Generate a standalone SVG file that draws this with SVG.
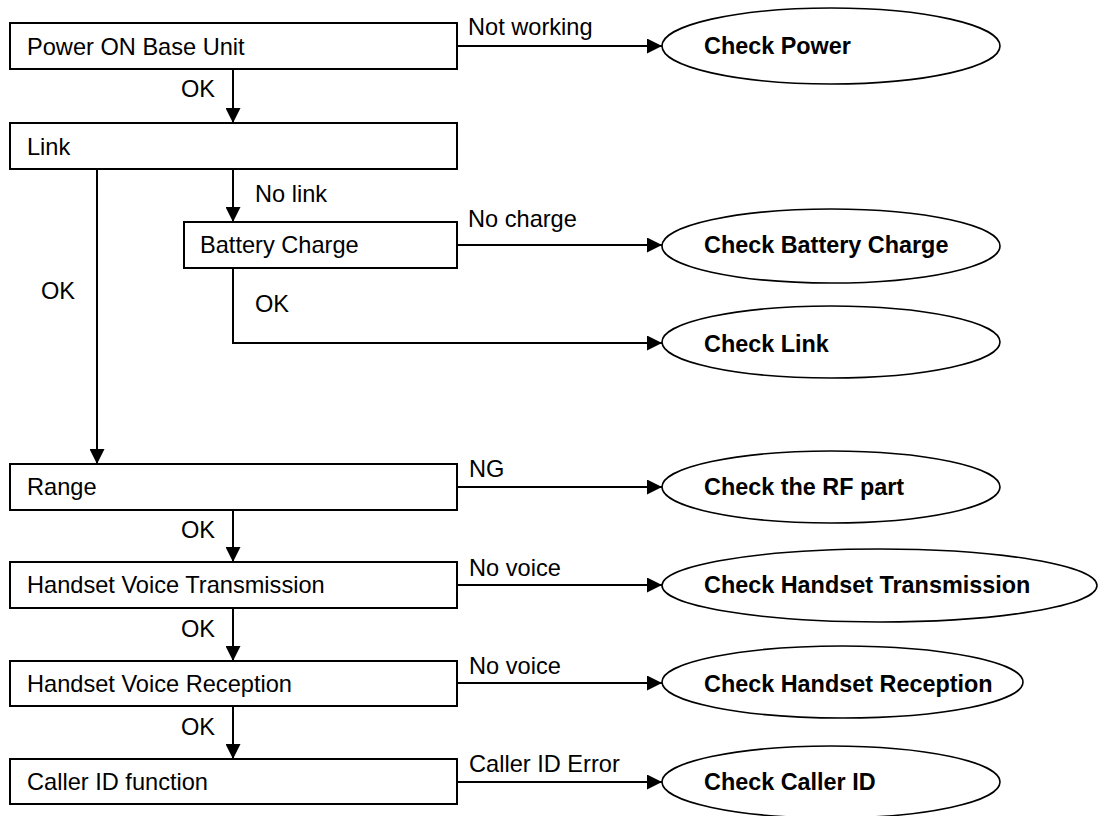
<svg xmlns="http://www.w3.org/2000/svg" width="1099" height="816" viewBox="0 0 1099 816">
  <style>
    .box { fill: #fff; stroke: #000; stroke-width: 2; }
    .end { fill: #fff; stroke: #000; stroke-width: 1.6; }
    .lbl { font-family: "Liberation Sans", Arial, sans-serif; font-size: 23.6px; fill: #000; }
    .bold { font-family: "Liberation Sans", Arial, sans-serif; font-size: 23.4px; font-weight: bold; fill: #000; }
    .wire { fill: none; stroke: #000; stroke-width: 2; }
  </style>
  <defs>
    <marker id="arrow" markerUnits="userSpaceOnUse" markerWidth="15" markerHeight="15" refX="15" refY="7.5" orient="auto">
      <path d="M0,0 L15,7.5 L0,15 z" fill="#000"/>
    </marker>
  </defs>
  <rect width="1099" height="816" fill="#fff"/>

  <!-- connectors -->
  <g id="connectors">
    <path class="wire" d="M233,69 V123" marker-end="url(#arrow)"/>
    <path class="wire" d="M233,169 V222" marker-end="url(#arrow)"/>
    <path class="wire" d="M97,169 V464" marker-end="url(#arrow)"/>
    <path class="wire" d="M233,268 V343 H662" marker-end="url(#arrow)"/>
    <path class="wire" d="M233,510 V562" marker-end="url(#arrow)"/>
    <path class="wire" d="M233,608 V661" marker-end="url(#arrow)"/>
    <path class="wire" d="M233,706 V759" marker-end="url(#arrow)"/>
    <path class="wire" d="M457,46 H662" marker-end="url(#arrow)"/>
    <path class="wire" d="M457,245 H662" marker-end="url(#arrow)"/>
    <path class="wire" d="M457,487 H662" marker-end="url(#arrow)"/>
    <path class="wire" d="M457,585 H662" marker-end="url(#arrow)"/>
    <path class="wire" d="M457,683 H662" marker-end="url(#arrow)"/>
    <path class="wire" d="M457,782 H662" marker-end="url(#arrow)"/>

    <text class="lbl" x="181" y="97">OK</text>
    <text class="lbl" x="255" y="202">No link</text>
    <text class="lbl" x="41" y="299">OK</text>
    <text class="lbl" x="255" y="312">OK</text>
    <text class="lbl" x="181" y="538">OK</text>
    <text class="lbl" x="181" y="637">OK</text>
    <text class="lbl" x="181" y="735">OK</text>
    <text class="lbl" x="468" y="35">Not working</text>
    <text class="lbl" x="468" y="227">No charge</text>
    <text class="lbl" x="469" y="477">NG</text>
    <text class="lbl" x="469" y="576">No voice</text>
    <text class="lbl" x="469" y="674">No voice</text>
    <text class="lbl" x="469" y="772">Caller ID Error</text>
  </g>

  <!-- process steps -->
  <g id="power-on">
    <rect class="box" x="10" y="23" width="447" height="46"/>
    <text class="lbl" x="27" y="55">Power ON Base Unit</text>
  </g>
  <g id="link">
    <rect class="box" x="10" y="123" width="447" height="46"/>
    <text class="lbl" x="27" y="155">Link</text>
  </g>
  <g id="battery-charge">
    <rect class="box" x="184" y="222" width="273" height="46"/>
    <text class="lbl" x="200" y="253">Battery Charge</text>
  </g>
  <g id="range">
    <rect class="box" x="10" y="464" width="447" height="46"/>
    <text class="lbl" x="27" y="495">Range</text>
  </g>
  <g id="voice-tx">
    <rect class="box" x="10" y="562" width="447" height="46"/>
    <text class="lbl" x="27" y="593">Handset Voice Transmission</text>
  </g>
  <g id="voice-rx">
    <rect class="box" x="10" y="661" width="447" height="45"/>
    <text class="lbl" x="27" y="692">Handset Voice Reception</text>
  </g>
  <g id="caller-id">
    <rect class="box" x="10" y="759" width="447" height="45"/>
    <text class="lbl" x="27" y="790">Caller ID function</text>
  </g>

  <!-- outcomes -->
  <g id="check-power">
    <ellipse class="end" cx="831" cy="46" rx="169" ry="38"/>
    <text class="bold" x="704" y="54">Check Power</text>
  </g>
  <g id="check-battery">
    <ellipse class="end" cx="831" cy="246" rx="169" ry="37"/>
    <text class="bold" x="704" y="253">Check Battery Charge</text>
  </g>
  <g id="check-link">
    <ellipse class="end" cx="831" cy="342" rx="169" ry="36"/>
    <text class="bold" x="704" y="352">Check Link</text>
  </g>
  <g id="check-rf">
    <ellipse class="end" cx="831" cy="487" rx="169" ry="36"/>
    <text class="bold" x="704" y="495">Check the RF part</text>
  </g>
  <g id="check-tx">
    <ellipse class="end" cx="879.5" cy="585.5" rx="217.5" ry="36.5"/>
    <text class="bold" x="704" y="593">Check Handset Transmission</text>
  </g>
  <g id="check-rx">
    <ellipse class="end" cx="842.5" cy="682" rx="180.5" ry="36"/>
    <text class="bold" x="704" y="692">Check Handset Reception</text>
  </g>
  <g id="check-cid">
    <ellipse class="end" cx="831" cy="782" rx="169" ry="36"/>
    <text class="bold" x="704" y="790">Check Caller ID</text>
  </g>
</svg>
